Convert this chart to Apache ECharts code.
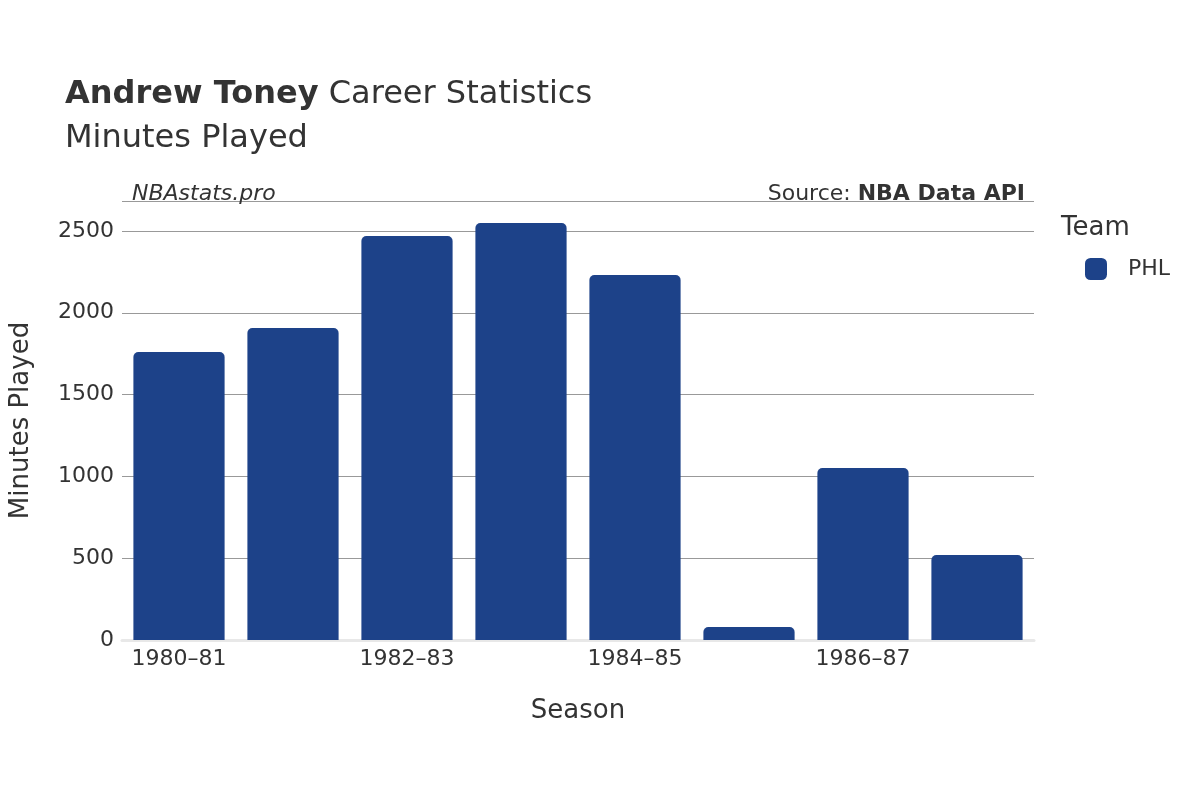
<!DOCTYPE html>
<html><head><meta charset="utf-8">
<script src="https://cdn.jsdelivr.net/npm/echarts@6/dist/echarts.min.js"></script>
<style>html,body{margin:0;padding:0;background:#fff}#c{width:1200px;height:800px}</style>
</head><body><div id="c"></div>
<script>
const seasons = ['1980–81','1981–82','1982–83','1983–84','1984–85','1985–86','1986–87','1987–88'];
const minutes = [1760, 1907, 2469, 2549, 2231, 79, 1051, 520];
const yTicks = [0, 500, 1000, 1500, 2000, 2500];
const chart = echarts.init(document.getElementById('c'));
const F = 'DejaVu Sans';
chart.setOption({
  animation: false,
  textStyle: {fontFamily: F},
  title: [
    {text: '{b|Andrew Toney} Career Statistics\nMinutes Played', left: 60, top: 68,
     textStyle: {fontFamily: F, fontSize: 32, fontWeight: 'normal', color: '#333', lineHeight: 44,
       rich: {b: {fontFamily: F, fontSize: 32, fontWeight: 'bold', color: '#333'}}}},
    {text: 'NBAstats.pro', left: 127, top: 178, textStyle: {fontFamily: F, fontSize: 22, fontStyle: 'italic', fontWeight: 'normal', color: '#333'}},
    {text: 'Source: {b|NBA Data API}', right: 170, top: 178,
     textStyle: {fontFamily: F, fontSize: 22, fontWeight: 'normal', color: '#333', rich: {b: {fontFamily: F, fontSize: 22, fontWeight: 'bold', color: '#333'}}}},
    {text: 'Team', left: 1056, top: 210, textStyle: {fontFamily: F, fontSize: 26, fontWeight: 'normal', color: '#333'}}
  ],
  legend: {left: 1080, top: 253, itemWidth: 22, itemHeight: 22, itemGap: 10,
    textStyle: {fontFamily: F, fontSize: 22, color: '#333', padding: [0,0,0,16]},
    data: [{name: 'PHL', icon: 'roundRect'}]},
  grid: {left: 122, right: 166, top: 201, bottom: 160},
  xAxis: {type: 'category', data: seasons, name: 'Season', nameLocation: 'middle', nameGap: 58,
    nameTextStyle: {fontFamily: F, fontSize: 26, color: '#333'},
    axisLine: {lineStyle: {color: '#e8e8e8', width: 3}}, axisTick: {show: false},
    axisLabel: {fontFamily: F, fontSize: 22, color: '#333', margin: 8}},
  yAxis: {type: 'value', min: 0, max: 2683, interval: 500, name: 'Minutes Played', nameLocation: 'middle', nameGap: 88,
    nameTextStyle: {fontFamily: F, fontSize: 26, color: '#333'},
    axisLabel: {fontFamily: F, fontSize: 22, color: '#333', showMaxLabel: false,
      formatter: v => yTicks.includes(v) ? String(v) : ''},
    splitLine: {lineStyle: {color: '#999', width: 1}}},
  series: [{name: 'PHL', type: 'bar', data: minutes, barCategoryGap: '20%',
    itemStyle: {color: '#1d4289', borderRadius: [5,5,0,0]}}]
});
</script></body></html>
